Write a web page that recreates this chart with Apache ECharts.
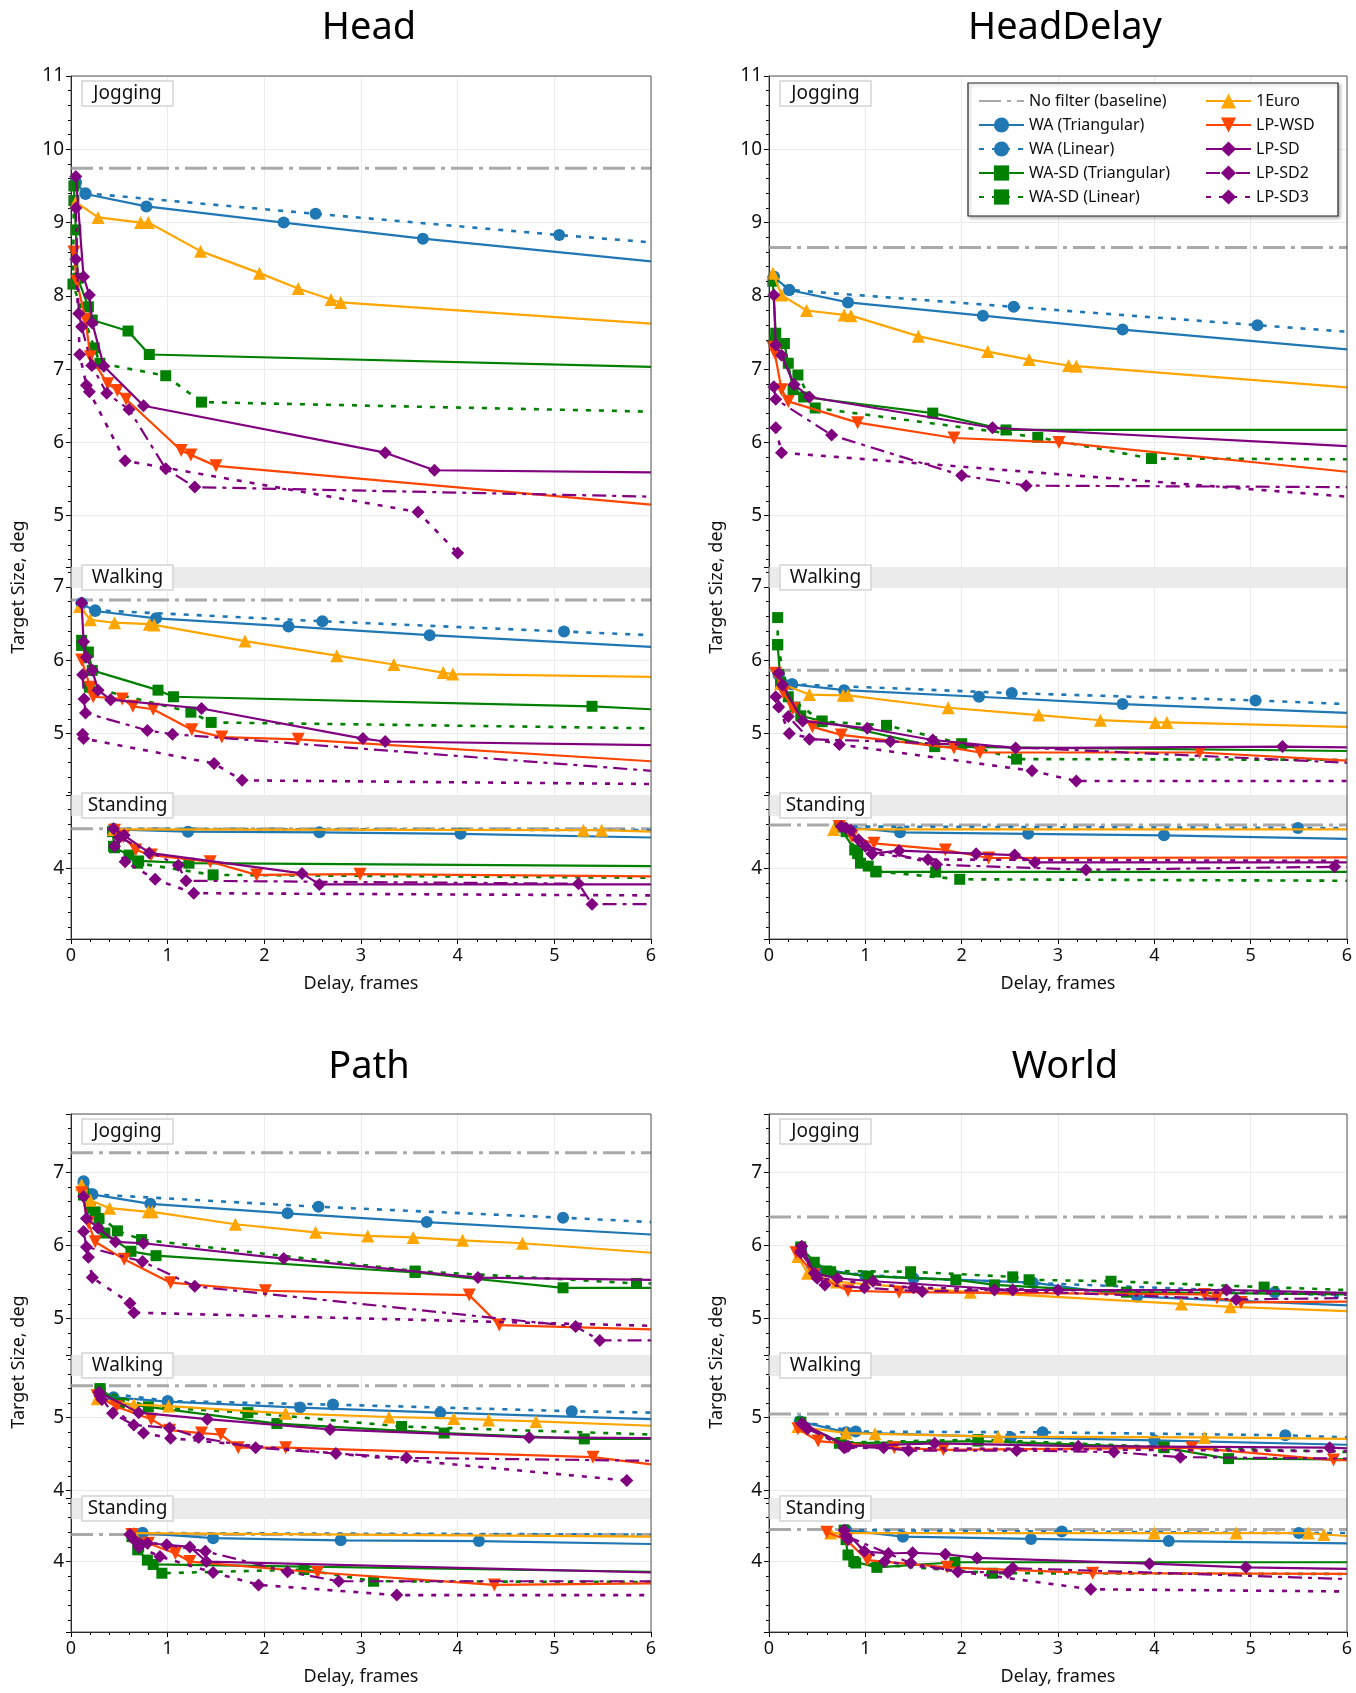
<!DOCTYPE html>
<html lang="en">
<head>
<meta charset="UTF-8">
<script src="https://cdn.jsdelivr.net/npm/echarts@6/dist/echarts.min.js"></script>
<style>
  html, body { margin: 0; background: #fff; }
  #main { width: 1356px; height: 1693px; }
</style>
</head>
<body>
<div id="main"></div>
<script>
// ---- data (x = delay in frames, y = target size in deg) ----
var PANELS = ['Head', 'HeadDelay', 'Path', 'World'];
var SECTIONS = ['Jogging', 'Walking', 'Standing'];
var NAMES = ['No filter (baseline)', 'WA (Triangular)', 'WA (Linear)', 'WA-SD (Triangular)', 'WA-SD (Linear)',
             '1Euro', 'LP-WSD', 'LP-SD', 'LP-SD2', 'LP-SD3'];
var X_TICKS = [0, 1, 2, 3, 4, 5, 6];

// baseline per section: jogging, walking, standing
var HEAD_BASE = [9.74, 6.82, 4.54];
var HEADDELAY_BASE = [8.66, 5.86, 4.59];
var PATH_BASE = [7.27, 5.44, 4.37];
var WORLD_BASE = [6.39, 5.05, 4.44];

// series order: WA Tri, WA Lin, WA-SD Tri, WA-SD Lin, 1Euro, LP-WSD, LP-SD, LP-SD2, LP-SD3
var HEAD_JOG = [
  [[0.05,9.55],[0.15,9.39],[0.78,9.22],[2.2,9.0],[3.64,8.78],[6,8.47]],
  [[0.05,9.55],[0.15,9.4],[2.53,9.12],[5.05,8.83],[6,8.73]],
  [[0.03,9.5],[0.05,8.9],[0.07,8.24],[0.18,7.85],[0.22,7.67],[0.59,7.52],[0.81,7.2],[6,7.03]],
  [[0.03,9.3],[0.02,8.16],[0.24,7.29],[0.3,7.08],[0.98,6.91],[1.35,6.55],[6,6.42]],
  [[0.05,9.28],[0.28,9.07],[0.72,9.0],[0.8,9.0],[1.34,8.61],[1.95,8.31],[2.35,8.1],[2.69,7.95],[2.79,7.91],[6,7.62]],
  [[0.03,8.6],[0.06,8.2],[0.15,7.68],[0.2,7.17],[0.38,6.8],[0.48,6.71],[0.57,6.59],[1.14,5.89],[1.24,5.83],[1.5,5.68],[6,5.15]],
  [[0.05,9.63],[0.13,8.26],[0.19,8.01],[0.22,7.63],[0.34,7.04],[0.75,6.5],[3.25,5.86],[3.76,5.62],[6,5.59]],
  [[0.05,9.2],[0.08,7.76],[0.11,7.58],[0.215,7.05],[0.37,6.67],[0.6,6.45],[0.98,5.64],[1.28,5.39],[6,5.26]],
  [[0.05,8.5],[0.09,7.2],[0.16,6.78],[0.19,6.69],[0.56,5.75],[3.59,5.05],[4.0,4.49]]
];
var HEAD_WALK = [
  [[0.11,6.77],[0.25,6.67],[0.88,6.57],[2.25,6.46],[3.71,6.34],[6,6.18]],
  [[0.11,6.78],[0.25,6.68],[2.6,6.53],[5.1,6.39],[6,6.34]],
  [[0.11,6.27],[0.18,6.11],[0.22,5.86],[0.9,5.59],[1.06,5.5],[5.39,5.37],[6,5.33]],
  [[0.11,6.2],[0.19,5.63],[1.24,5.29],[1.45,5.15],[6,5.07]],
  [[0.09,6.73],[0.2,6.55],[0.45,6.51],[0.81,6.49],[0.86,6.48],[1.8,6.26],[2.75,6.06],[3.34,5.94],[3.85,5.83],[3.95,5.81],[6,5.77]],
  [[0.11,6.0],[0.2,5.63],[0.23,5.5],[0.53,5.47],[0.64,5.37],[0.85,5.33],[1.25,5.05],[1.56,4.95],[2.35,4.92],[6,4.62]],
  [[0.11,6.78],[0.13,6.25],[0.16,6.04],[0.22,5.86],[0.28,5.59],[0.41,5.46],[1.35,5.34],[3.02,4.93],[3.25,4.89],[6,4.84]],
  [[0.12,5.8],[0.135,5.47],[0.15,5.28],[0.79,5.04],[1.05,4.99],[6,4.49]],
  [[0.12,4.99],[0.13,4.93],[1.48,4.59],[1.77,4.36],[6,4.31]]
];
var HEAD_STAND = [
  [[0.44,4.53],[1.21,4.5],[2.57,4.49],[4.03,4.47],[6,4.42]],
  [[0.44,4.54],[6,4.52]],
  [[0.43,4.5],[0.45,4.28],[0.6,4.18],[0.7,4.1],[1.22,4.07],[6,4.03]],
  [[0.44,4.3],[0.69,4.07],[1.47,3.91],[6,3.87]],
  [[0.44,4.53],[5.3,4.52],[5.49,4.52],[6,4.5]],
  [[0.45,4.52],[0.54,4.43],[0.67,4.25],[0.83,4.18],[1.44,4.09],[1.92,3.91],[2.99,3.92],[6,3.89]],
  [[0.44,4.54],[0.55,4.45],[0.81,4.21],[2.39,3.93],[2.57,3.78],[6,3.78]],
  [[0.5,4.42],[1.11,4.04],[1.19,3.83],[5.25,3.79],[5.39,3.51],[6,3.51]],
  [[0.45,4.3],[0.56,4.09],[0.87,3.85],[1.27,3.66],[6,3.63]]
];

var HEADDELAY_JOG = [
  [[0.05,8.26],[0.21,8.08],[0.82,7.91],[2.22,7.73],[3.67,7.54],[6,7.27]],
  [[0.05,8.26],[0.21,8.08],[2.54,7.85],[5.07,7.6],[6,7.51]],
  [[0.04,8.2],[0.07,7.49],[0.16,7.35],[0.25,6.72],[0.36,6.62],[1.7,6.4],[2.46,6.17],[6,6.17]],
  [[0.06,7.4],[0.2,7.08],[0.3,6.92],[0.48,6.47],[2.79,6.07],[3.97,5.78],[6,5.77]],
  [[0.04,8.31],[0.13,8.01],[0.39,7.8],[0.78,7.74],[0.85,7.73],[1.55,7.45],[2.27,7.24],[2.7,7.13],[3.11,7.05],[3.19,7.04],[6,6.75]],
  [[0.04,7.3],[0.06,7.22],[0.13,6.72],[0.2,6.56],[0.92,6.27],[1.92,6.06],[3.01,6.0],[6,5.6]],
  [[0.05,8.01],[0.07,7.33],[0.13,7.19],[0.26,6.79],[0.42,6.62],[2.32,6.2],[6,5.95]],
  [[0.05,6.76],[0.07,6.59],[0.65,6.1],[2.0,5.55],[2.67,5.41],[6,5.39]],
  [[0.07,6.2],[0.13,5.86],[6,5.26]]
];
var HEADDELAY_WALK = [
  [[0.1,5.8],[0.24,5.67],[0.78,5.59],[2.18,5.5],[3.67,5.4],[6,5.28]],
  [[0.1,5.8],[0.24,5.67],[2.52,5.55],[5.05,5.45],[6,5.4]],
  [[0.09,6.21],[0.12,5.7],[0.27,5.36],[0.33,5.24],[0.55,5.17],[1.72,4.82],[6,4.76]],
  [[0.09,6.58],[0.09,6.21],[0.2,5.5],[0.55,5.16],[1.22,5.11],[2.0,4.86],[2.57,4.65],[6,4.64]],
  [[0.12,5.68],[0.42,5.53],[0.77,5.52],[0.82,5.52],[1.86,5.35],[2.8,5.25],[3.44,5.18],[4.01,5.15],[4.13,5.15],[6,5.09]],
  [[0.07,5.82],[0.15,5.55],[0.25,5.34],[0.45,5.09],[0.75,4.98],[1.92,4.8],[2.19,4.74],[4.47,4.74],[6,4.63]],
  [[0.1,5.82],[0.14,5.66],[0.35,5.17],[1.02,5.07],[1.7,4.91],[2.56,4.8],[5.33,4.82],[6,4.81]],
  [[0.07,5.5],[0.2,5.23],[0.42,4.92],[1.26,4.89],[6,4.6]],
  [[0.1,5.36],[0.21,5.0],[0.73,4.85],[2.73,4.49],[3.19,4.35],[6,4.35]]
];
var HEADDELAY_STAND = [
  [[0.73,4.57],[1.36,4.49],[2.69,4.47],[4.1,4.45],[6,4.4]],
  [[0.73,4.57],[5.49,4.55],[6,4.55]],
  [[0.73,4.57],[0.89,4.25],[0.95,4.07],[1.03,4.03],[1.11,3.95],[1.73,3.95],[6,3.95]],
  [[0.8,4.5],[0.92,4.2],[1.11,3.96],[1.98,3.85],[6,3.83]],
  [[0.67,4.53],[6,4.53]],
  [[0.73,4.57],[0.86,4.43],[1.09,4.34],[1.83,4.25],[2.28,4.14],[6,4.15]],
  [[0.75,4.57],[0.93,4.39],[1.07,4.2],[1.35,4.24],[2.15,4.2],[2.55,4.18],[2.76,4.08],[6,4.08]],
  [[0.8,4.55],[1.0,4.3],[1.74,4.05],[3.29,3.98],[5.87,4.02],[6,4.02]],
  [[0.85,4.52],[1.07,4.2],[1.65,4.12],[6,4.1]]
];

var PATH_JOG = [
  [[0.13,6.88],[0.22,6.7],[0.82,6.57],[2.24,6.44],[3.68,6.32],[6,6.15]],
  [[0.13,6.85],[0.22,6.7],[2.56,6.53],[5.09,6.38],[6,6.32]],
  [[0.13,6.69],[0.2,6.51],[0.29,6.37],[0.35,6.17],[0.62,5.92],[0.88,5.86],[3.56,5.63],[5.09,5.42],[6,5.42]],
  [[0.13,6.7],[0.25,6.46],[0.48,6.2],[0.73,6.08],[3.56,5.65],[5.85,5.48],[6,5.48]],
  [[0.11,6.83],[0.2,6.62],[0.4,6.51],[0.8,6.46],[0.84,6.46],[1.7,6.29],[2.53,6.18],[3.07,6.13],[3.54,6.11],[4.05,6.07],[4.67,6.03],[6,5.9]],
  [[0.11,6.72],[0.18,6.31],[0.25,6.05],[0.55,5.81],[1.03,5.49],[2.01,5.38],[4.12,5.32],[4.43,4.91],[6,4.85]],
  [[0.13,6.67],[0.16,6.37],[0.28,6.24],[0.46,6.05],[0.75,6.03],[2.2,5.82],[4.21,5.56],[6,5.53]],
  [[0.13,6.19],[0.16,5.98],[0.74,5.78],[1.28,5.44],[5.22,4.89],[5.47,4.7],[6,4.7]],
  [[0.18,5.84],[0.22,5.56],[0.61,5.21],[0.65,5.08],[6,4.9]]
];
var PATH_WALK = [
  [[0.3,5.33],[0.44,5.28],[1.0,5.22],[2.37,5.14],[3.82,5.07],[6,4.98]],
  [[0.3,5.35],[1.0,5.23],[2.71,5.18],[5.18,5.09],[6,5.07]],
  [[0.3,5.4],[0.5,5.2],[2.13,4.92],[3.86,4.79],[5.31,4.71],[6,4.71]],
  [[0.3,5.38],[0.8,5.15],[1.83,5.07],[3.42,4.88],[6,4.77]],
  [[0.27,5.26],[0.65,5.18],[1.01,5.16],[2.22,5.06],[3.29,5.01],[3.96,4.99],[4.32,4.97],[4.81,4.95],[6,4.89]],
  [[0.27,5.3],[0.47,5.15],[0.83,4.98],[1.02,4.83],[1.35,4.79],[1.55,4.77],[1.73,4.59],[2.22,4.59],[5.4,4.46],[6,4.36]],
  [[0.29,5.35],[0.7,5.07],[1.41,4.98],[2.68,4.84],[4.74,4.73],[6,4.72]],
  [[0.3,5.3],[0.43,5.06],[0.65,4.9],[1.02,4.86],[1.32,4.73],[1.91,4.59],[2.74,4.51],[3.47,4.45],[6,4.41]],
  [[0.32,5.25],[0.75,4.79],[1.03,4.72],[5.75,4.14]]
];
var PATH_STAND = [
  [[0.74,4.39],[1.47,4.32],[2.79,4.29],[4.22,4.28],[6,4.24]],
  [[0.74,4.39],[6,4.37]],
  [[0.63,4.34],[0.69,4.16],[0.79,4.02],[0.85,3.96],[6,3.86]],
  [[0.7,4.2],[0.94,3.84],[2.41,3.89],[3.13,3.73],[6,3.72]],
  [[0.65,4.39],[6,4.34]],
  [[0.63,4.37],[0.8,4.25],[1.08,4.11],[1.23,4.0],[2.55,3.85],[4.38,3.68],[6,3.7]],
  [[0.61,4.37],[0.79,4.25],[0.99,4.23],[1.23,4.2],[1.4,4.0],[6,3.85]],
  [[0.65,4.3],[1.39,4.14],[2.24,3.86],[2.77,3.73],[6,3.73]],
  [[0.7,4.2],[0.92,4.07],[1.47,3.85],[1.94,3.68],[3.37,3.54],[6,3.54]]
];

var WORLD_JOG = [
  [[0.33,5.95],[0.45,5.7],[1.0,5.58],[2.74,5.49],[3.82,5.3],[6,5.18]],
  [[0.33,5.97],[0.5,5.65],[1.5,5.55],[5.25,5.36],[6,5.3]],
  [[0.33,5.98],[0.47,5.77],[0.64,5.64],[1.03,5.58],[1.94,5.53],[2.34,5.46],[3.71,5.36],[6,5.33]],
  [[0.33,5.95],[0.6,5.65],[1.47,5.64],[2.53,5.57],[2.7,5.53],[3.55,5.51],[5.14,5.43],[6,5.39]],
  [[0.3,5.85],[0.4,5.62],[0.7,5.5],[2.09,5.36],[4.28,5.2],[4.79,5.16],[6,5.1]],
  [[0.28,5.9],[0.47,5.6],[0.82,5.38],[1.35,5.36],[4.52,5.33],[4.65,5.28],[4.9,5.22],[6,5.23]],
  [[0.34,5.99],[0.47,5.62],[0.71,5.55],[1.08,5.51],[2.53,5.39],[4.75,5.39],[6,5.35]],
  [[0.33,5.9],[0.58,5.46],[0.99,5.42],[1.59,5.37],[2.34,5.39],[4.85,5.26],[6,5.28]],
  [[0.33,5.92],[0.5,5.55],[1.5,5.42],[3.0,5.39],[6,5.33]]
];
var WORLD_WALK = [
  [[0.32,4.95],[0.8,4.8],[2.51,4.73],[4.0,4.69],[6,4.63]],
  [[0.32,4.95],[0.9,4.81],[2.84,4.8],[5.36,4.76],[6,4.73]],
  [[0.33,4.94],[0.73,4.65],[2.17,4.68],[4.1,4.59],[4.77,4.44],[6,4.43]],
  [[0.33,4.92],[0.75,4.66],[2.17,4.7],[4.1,4.6],[6,4.53]],
  [[0.3,4.88],[0.8,4.79],[1.1,4.78],[2.38,4.74],[4.52,4.73],[6,4.71]],
  [[0.3,4.85],[0.51,4.68],[1.3,4.59],[1.81,4.56],[4.39,4.59],[5.86,4.42],[6,4.42]],
  [[0.34,4.92],[0.82,4.61],[1.72,4.65],[3.21,4.61],[5.82,4.59],[6,4.58]],
  [[0.4,4.85],[0.8,4.6],[1.19,4.59],[1.45,4.55],[2.57,4.55],[3.58,4.53],[4.27,4.46],[6,4.44]],
  [[0.36,4.9],[0.78,4.59],[6,4.54]]
];
var WORLD_STAND = [
  [[0.8,4.43],[1.39,4.34],[2.72,4.31],[4.15,4.28],[6,4.25]],
  [[0.8,4.43],[3.04,4.41],[5.5,4.39],[6,4.39]],
  [[0.78,4.43],[0.82,4.09],[0.88,4.0],[1.12,3.92],[1.93,3.99],[6,3.99]],
  [[0.8,4.3],[0.9,3.98],[2.32,3.84],[6,3.83]],
  [[0.64,4.39],[4.0,4.39],[4.85,4.39],[5.6,4.39],[5.76,4.37],[6,4.35]],
  [[0.6,4.4],[0.8,4.3],[1.02,4.02],[1.85,3.92],[3.36,3.84],[6,3.83]],
  [[0.78,4.43],[0.99,4.14],[1.24,4.11],[1.49,4.12],[1.83,4.1],[2.16,4.05],[3.95,3.97],[4.95,3.92],[6,3.9]],
  [[0.8,4.35],[1.47,3.98],[1.96,3.86],[2.48,3.85],[2.53,3.91],[6,3.76]],
  [[0.82,4.3],[1.2,4.0],[3.34,3.62],[6,3.59]]
];

var BASES = [HEAD_BASE, HEADDELAY_BASE, PATH_BASE, WORLD_BASE];
var LINES = [
  [HEAD_JOG, HEAD_WALK, HEAD_STAND],
  [HEADDELAY_JOG, HEADDELAY_WALK, HEADDELAY_STAND],
  [PATH_JOG, PATH_WALK, PATH_STAND],
  [WORLD_JOG, WORLD_WALK, WORLD_STAND]
];

// ---- layout ----
var FONT = 'Noto Sans';
var PLOT_LEFT = [71, 769, 71, 769];
var PLOT_WIDTH = [580, 578, 580, 578];
var ROW_TOPS = [[76, 567, 795], [1114, 1355, 1498]];
var ROW_HEIGHTS = [[491, 228, 144], [241, 143, 134]];
var ROW_YRANGE = [
  [[4.30, 11], [4.16, 7.27], [3.035, 5.0]],
  [[4.50, 7.80], [3.90, 5.86], [3.035, 4.87]]
];

var STYLES = [
  { color: '#1f77b4', type: 'solid', width: 2.2, symbol: 'circle', size: 12 },
  { color: '#1f77b4', type: [5, 8], width: 2.6, symbol: 'circle', size: 12 },
  { color: '#008000', type: 'solid', width: 2.2, symbol: 'rect', size: 11 },
  { color: '#008000', type: [5, 8], width: 2.6, symbol: 'rect', size: 11 },
  { color: '#ffa500', type: 'solid', width: 2.2, symbol: 'triangle', size: 13 },
  { color: '#ff4500', type: 'solid', width: 2.2, symbol: 'triangle', size: 13, rotate: 180 },
  { color: '#800080', type: 'solid', width: 2.2, symbol: 'diamond', size: 13 },
  { color: '#800080', type: [14, 6, 4, 6], width: 2.2, symbol: 'diamond', size: 13 },
  { color: '#800080', type: [5, 8], width: 2.6, symbol: 'diamond', size: 13 }
];

var grids = [], xAxes = [], yAxes = [], series = [], graphics = [];

function intLabel(v) {
  return Math.abs(v - Math.round(v)) < 1e-6 ? String(Math.round(v)) : '';
}

PANELS.forEach(function (panel, p) {
  var row = p < 2 ? 0 : 1;
  var left = PLOT_LEFT[p], width = PLOT_WIDTH[p];
  var tops = ROW_TOPS[row], heights = ROW_HEIGHTS[row];

  SECTIONS.forEach(function (sec, s) {
    var g = grids.length;
    var isBottom = s === 2;
    grids.push({ left: left, top: tops[s], width: width, height: heights[s], containLabel: false });
    xAxes.push({
      type: 'value', gridIndex: g, min: 0, max: 6, interval: 1,
      axisLine: { show: isBottom, onZero: false, lineStyle: { color: '#000' } },
      axisTick: { show: isBottom, length: 5, lineStyle: { color: '#000' } },
      minorTick: { show: isBottom, splitNumber: 5, length: 3, lineStyle: { color: '#000' } },
      axisLabel: { show: isBottom, color: '#111', fontSize: 18, fontFamily: FONT, margin: 8,
        formatter: function (v) { return X_TICKS.indexOf(v) >= 0 ? String(v) : ''; } },
      splitLine: { show: true, lineStyle: { color: '#ebebeb', width: 1 } },
      name: isBottom ? 'Delay, frames' : '', nameLocation: 'middle', nameGap: 36,
      nameTextStyle: { color: '#111', fontSize: 18, fontFamily: FONT }
    });
    var yr = ROW_YRANGE[row][s];
    yAxes.push({
      type: 'value', gridIndex: g, min: yr[0], max: yr[1], minInterval: 1, maxInterval: 1,
      axisLine: { show: true, onZero: false, lineStyle: { color: '#000' } },
      axisTick: { show: true, length: 5, lineStyle: { color: '#000' } },
      minorTick: { show: true, splitNumber: 5, length: 3, lineStyle: { color: '#000' } },
      axisLabel: { color: '#111', fontSize: 19, fontFamily: FONT, margin: 7, formatter: intLabel,
        showMaxLabel: s === 0 },
      splitLine: { show: true, lineStyle: { color: '#ebebeb', width: 1 } }
    });

    var b = BASES[p][s];
    series.push({
      name: NAMES[0], type: 'line', xAxisIndex: g, yAxisIndex: g,
      data: [[0, b], [6, b]], symbol: 'none', silent: true,
      lineStyle: { color: '#a9a9a9', width: 3, type: [22, 6, 4, 6] },
      itemStyle: { color: '#a9a9a9' }, z: 2
    });
    LINES[p][s].forEach(function (pts, k) {
      var st = STYLES[k];
      series.push({
        name: NAMES[k + 1], type: 'line', xAxisIndex: g, yAxisIndex: g,
        data: pts.map(function (pt) { return pt[0] === 6 ? { value: pt, symbol: 'none' } : pt; }),
        symbol: st.symbol, symbolSize: st.size, symbolRotate: st.rotate || 0,
        showSymbol: true, showAllSymbol: true,
        lineStyle: { color: st.color, width: st.width, type: st.type },
        itemStyle: { color: st.color }, z: 3 + k
      });
    });

    // section header band + label box
    var boxTop = s === 0 ? tops[s] + 5 : tops[s] - 2;
    if (s > 0) {
      graphics.push({ type: 'rect', z: 1, silent: true,
        shape: { x: left, y: tops[s], width: width, height: 21 }, style: { fill: '#ebebeb' } });
    }
    graphics.push({ type: 'rect', z: 20, silent: true,
      shape: { x: left + 11, y: boxTop, width: 91, height: 25 },
      style: { fill: '#fff', stroke: '#d4d4d4', lineWidth: 1.5 } });
    graphics.push({ type: 'text', z: 21, silent: true, x: left + 56.5, y: boxTop + 12.5,
      style: { text: sec, fill: '#111', font: '19px "' + FONT + '"', textAlign: 'center', textVerticalAlign: 'middle' } });
  });

  // plot frame
  var fTop = tops[0], fHeight = tops[2] + heights[2] - tops[0];
  graphics.push({ type: 'rect', z: 30, silent: true,
    shape: { x: left, y: fTop, width: width, height: fHeight },
    style: { fill: 'none', stroke: '#555', lineWidth: 1 } });
  // y axis title
  graphics.push({ type: 'text', z: 21, silent: true, x: left - 52, y: row === 0 ? 587 : 1362, rotation: Math.PI / 2,
    style: { text: 'Target Size, deg', fill: '#111', font: '18px "' + FONT + '"', textAlign: 'center', textVerticalAlign: 'middle' } });
});

// legend frame (HeadDelay, jogging section)
graphics.push({ type: 'rect', z: 3, silent: true,
  shape: { x: 968, y: 83, width: 370, height: 133 },
  style: { fill: '#fff', stroke: '#222', lineWidth: 1.2, shadowBlur: 3, shadowOffsetX: 2, shadowOffsetY: 2, shadowColor: 'rgba(0,0,0,0.25)' } });

var legendCommon = {
  orient: 'vertical', itemWidth: 45, itemHeight: 19, itemGap: 8, selectedMode: false, z: 5,
  textStyle: { color: '#111', fontSize: 16, fontFamily: FONT, lineHeight: 14 }
};
var legendCol1 = NAMES.slice(0, 5).map(function (n, i) {
  return i === 0 ? { name: n, itemStyle: { opacity: 0 } } : n;
});

var option = {
  animation: false,
  backgroundColor: '#fff',
  title: [
    { text: 'Head', left: 364, top: 4, textAlign: 'center', textStyle: { fontSize: 38, fontWeight: 'normal', fontFamily: FONT, color: '#000' } },
    { text: 'HeadDelay', left: 1060, top: 4, textAlign: 'center', textStyle: { fontSize: 38, fontWeight: 'normal', fontFamily: FONT, color: '#000' } },
    { text: 'Path', left: 364, top: 1043, textAlign: 'center', textStyle: { fontSize: 38, fontWeight: 'normal', fontFamily: FONT, color: '#000' } },
    { text: 'World', left: 1060, top: 1043, textAlign: 'center', textStyle: { fontSize: 38, fontWeight: 'normal', fontFamily: FONT, color: '#000' } }
  ],
  legend: [
    Object.assign({ data: legendCol1, left: 973, top: 88 }, legendCommon),
    Object.assign({ data: NAMES.slice(5), left: 1200, top: 88 }, legendCommon)
  ],
  grid: grids,
  xAxis: xAxes,
  yAxis: yAxes,
  series: series,
  graphic: graphics
};

var myChart = echarts.init(document.getElementById('main'));
myChart.setOption(option);
</script>
</body>
</html>
